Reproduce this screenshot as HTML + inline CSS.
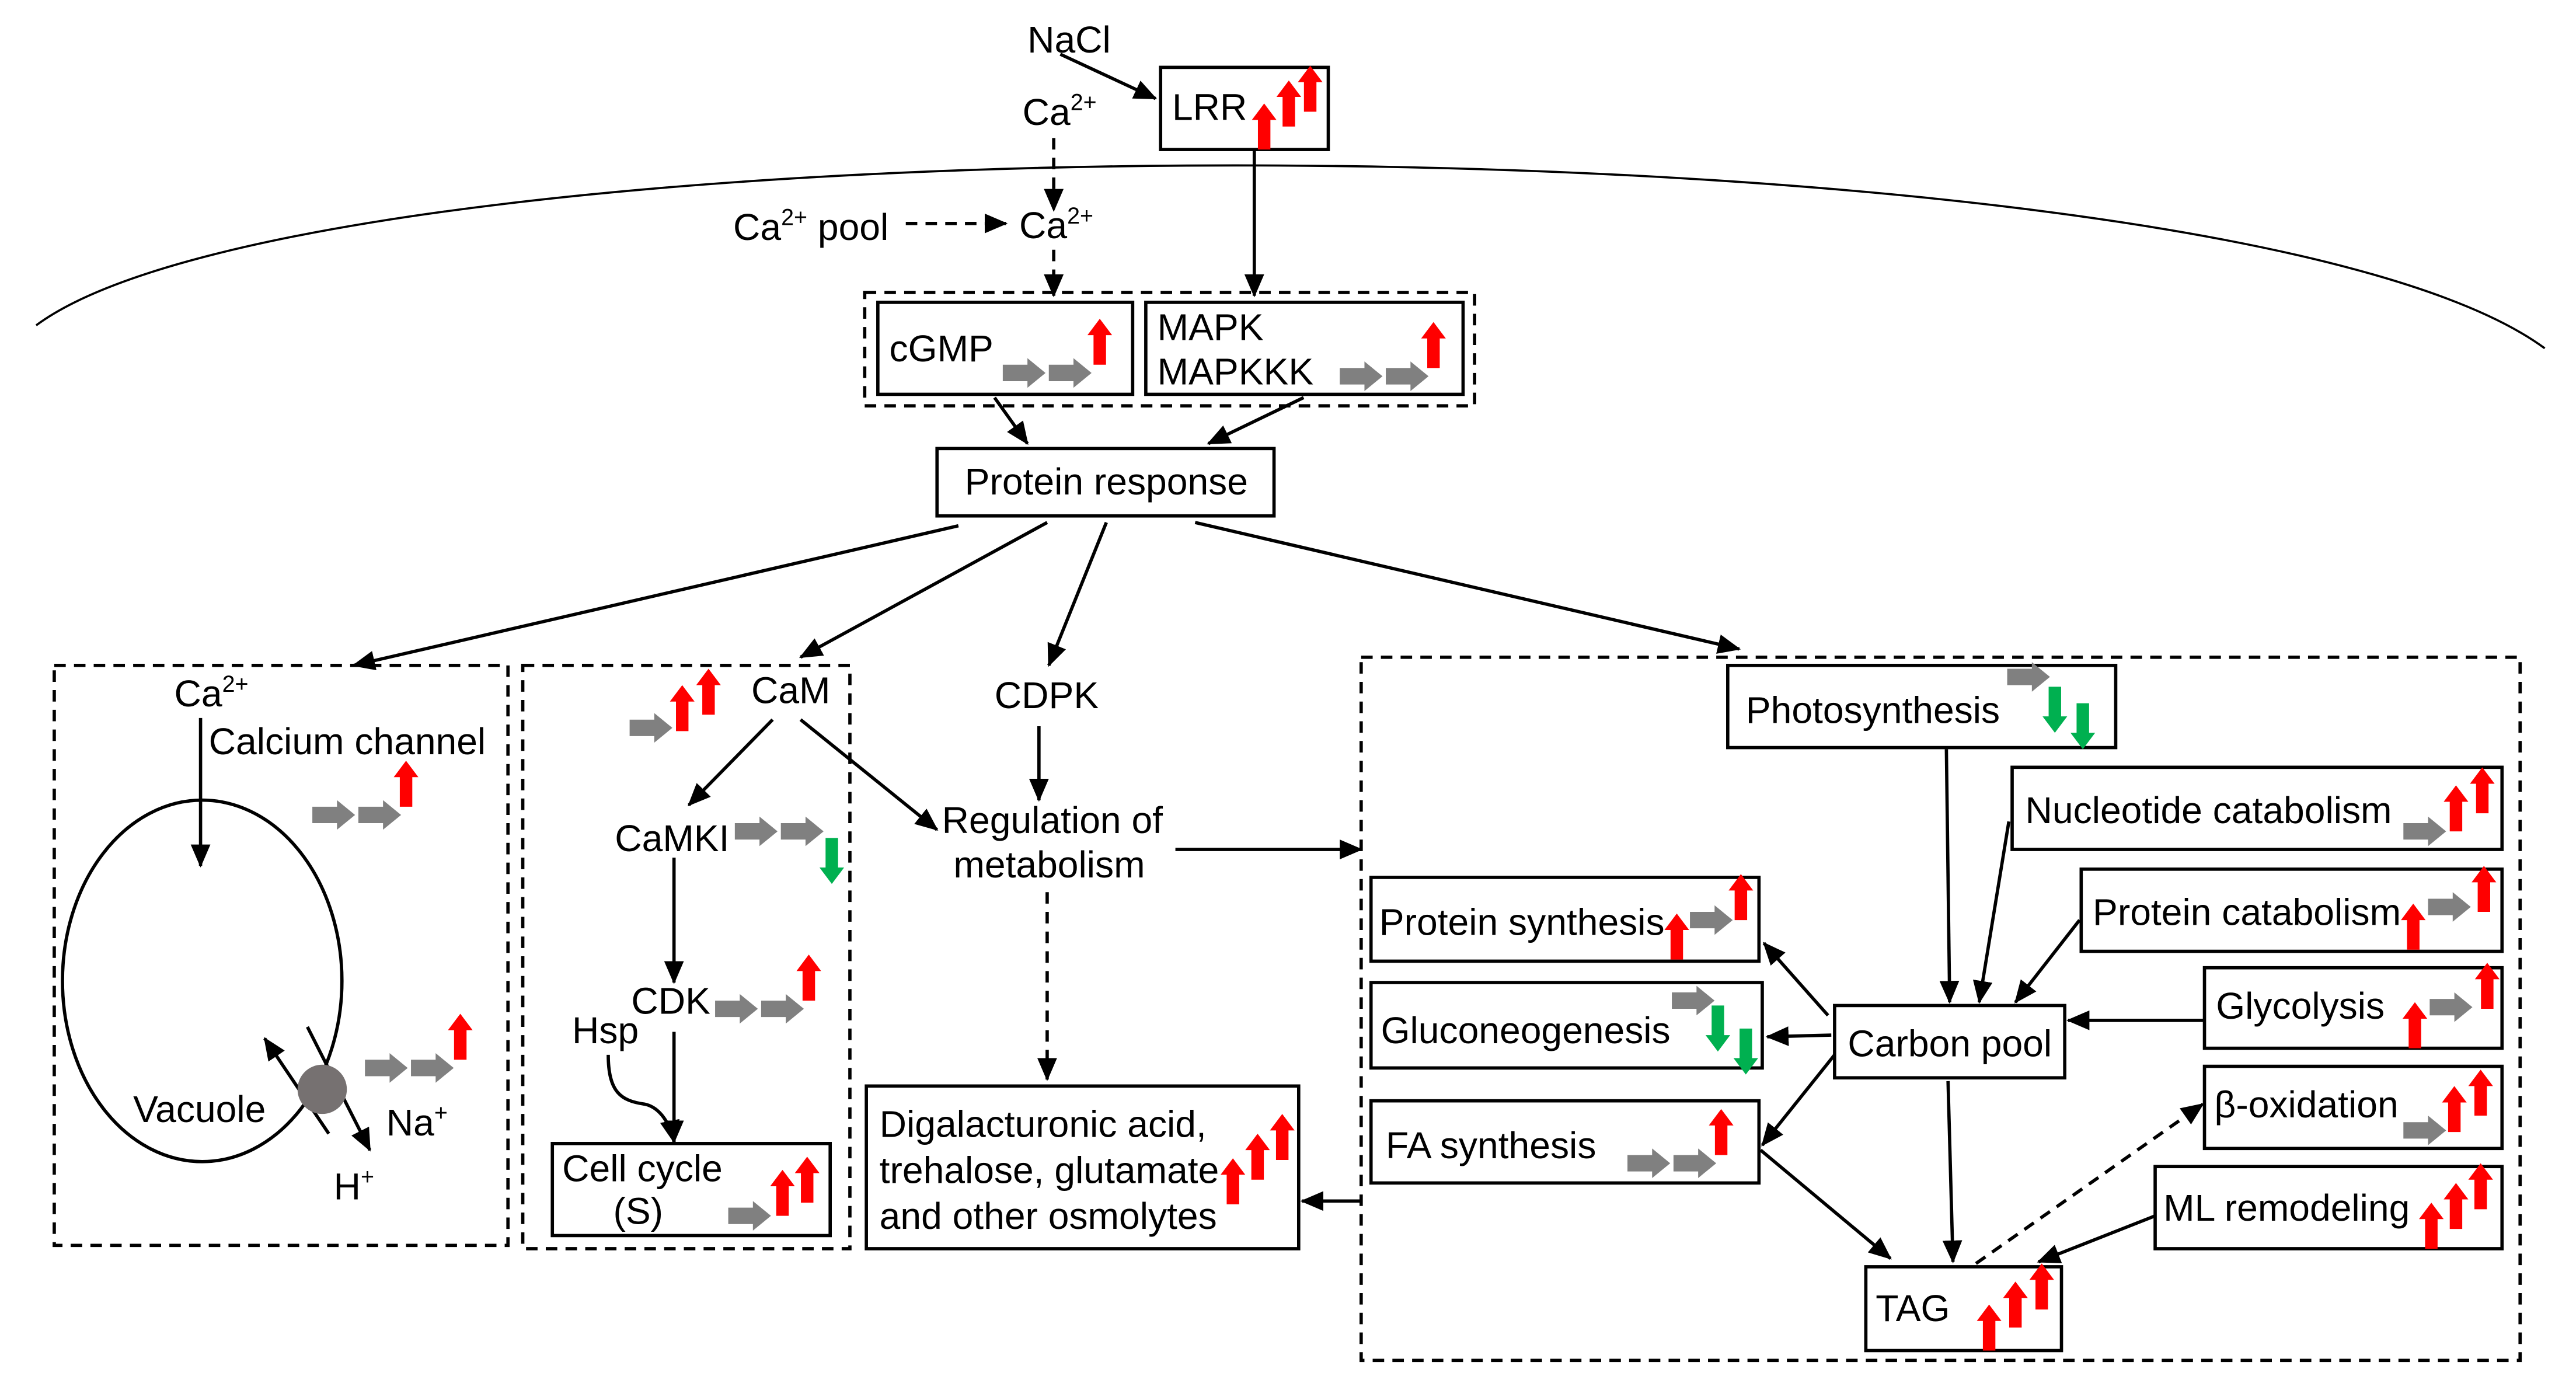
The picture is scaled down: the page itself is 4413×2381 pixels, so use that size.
<!DOCTYPE html>
<html><head><meta charset="utf-8"><style>
html,body{margin:0;padding:0;background:#fff;}
svg{display:block;}
text{font-family:"Liberation Sans",Arial,sans-serif;font-size:22.8px;fill:#000;}
</style></head><body>
<svg width="4413" height="2381" viewBox="0 0 1567 846" preserveAspectRatio="none" xmlns="http://www.w3.org/2000/svg">
<defs>
<marker id="ah" markerUnits="userSpaceOnUse" markerWidth="14" markerHeight="12" refX="13" refY="6" orient="auto"><path d="M0,0 L14,6 L0,12 Z" fill="#000"/></marker>
<g id="ru"><path d="M-3.8,0 V-18 H-7.5 L0,-28 L7.5,-18 H3.8 V0 Z" fill="#ff0000"/></g>
<g id="gd"><path d="M-3.8,0 V18 H-7.5 L0,28 L7.5,18 H3.8 V0 Z" fill="#00b050"/></g>
<g id="gr"><path d="M0,-5 H15 V-9 L26,0 L15,9 V5 H0 Z" fill="#808080"/></g>
</defs>
<g fill="none" stroke="#000" stroke-width="2">
<path d="M22,198 C200,66 1350,66 1548,212" stroke-width="1.3"/>
<line x1="645" y1="33" x2="703" y2="60" marker-end="url(#ah)"/>
<rect x="706" y="41" width="102" height="50"/>
<line x1="641" y1="84" x2="641" y2="128" stroke-dasharray="7,5" marker-end="url(#ah)"/>
<line x1="551" y1="136" x2="612" y2="136" stroke-dasharray="7,5" marker-end="url(#ah)"/>
<line x1="641" y1="152" x2="641" y2="180" stroke-dasharray="7,5" marker-end="url(#ah)"/>
<line x1="763" y1="91" x2="763" y2="180" marker-end="url(#ah)"/>
<rect x="526" y="178" width="371" height="69" stroke-dasharray="7,5"/>
<rect x="534" y="184" width="155" height="56"/>
<rect x="697" y="184" width="193" height="56"/>
<line x1="605" y1="242" x2="625" y2="270" marker-end="url(#ah)"/>
<line x1="793" y1="242" x2="735" y2="270" marker-end="url(#ah)"/>
<rect x="570" y="273" width="205" height="41"/>
<line x1="583" y1="320" x2="215" y2="405" marker-end="url(#ah)"/>
<line x1="637" y1="318" x2="487" y2="400" marker-end="url(#ah)"/>
<line x1="673" y1="318" x2="638" y2="405" marker-end="url(#ah)"/>
<line x1="727" y1="318" x2="1058" y2="395" marker-end="url(#ah)"/>
<rect x="33" y="405" width="276" height="353" stroke-dasharray="7,5"/>
<line x1="122" y1="437" x2="122" y2="527" marker-end="url(#ah)"/>
<ellipse cx="123" cy="597" rx="85" ry="110"/>
<line x1="200" y1="690" x2="161" y2="632" marker-end="url(#ah)"/>
<line x1="187" y1="625" x2="225" y2="700" marker-end="url(#ah)"/>
<rect x="318" y="405" width="199" height="355" stroke-dasharray="7,5"/>
<line x1="470" y1="438" x2="419" y2="490" marker-end="url(#ah)"/>
<line x1="487" y1="438" x2="570" y2="505" marker-end="url(#ah)"/>
<line x1="410" y1="522" x2="410" y2="598" marker-end="url(#ah)"/>
<line x1="410" y1="628" x2="410" y2="695" marker-end="url(#ah)"/>
<path d="M370,642 C370,665 378,670 392,672 C402,674 408,685 410,695" marker-end="url(#ah)"/>
<rect x="336" y="696" width="169" height="56"/>
<line x1="632" y1="442" x2="632" y2="487" marker-end="url(#ah)"/>
<line x1="715" y1="517" x2="828" y2="517" marker-end="url(#ah)"/>
<line x1="637" y1="543" x2="637" y2="657" stroke-dasharray="7,5" marker-end="url(#ah)"/>
<rect x="527" y="661" width="263" height="99"/>
<line x1="828" y1="731" x2="792" y2="731" marker-end="url(#ah)"/>
<rect x="828" y="400" width="705" height="428" stroke-dasharray="7,5"/>
<rect x="1051" y="405" width="236" height="50"/>
<rect x="1224" y="467" width="298" height="50"/>
<rect x="1266" y="529" width="256" height="50"/>
<rect x="1341" y="589" width="181" height="49"/>
<rect x="1341" y="649" width="181" height="50"/>
<rect x="1311" y="710" width="211" height="50"/>
<rect x="834" y="534" width="236" height="51"/>
<rect x="834" y="598" width="238" height="52"/>
<rect x="834" y="670" width="236" height="50"/>
<rect x="1116" y="612" width="140" height="44"/>
<rect x="1135" y="771" width="119" height="51"/>
<line x1="1184" y1="456" x2="1186" y2="610" marker-end="url(#ah)"/>
<line x1="1222" y1="500" x2="1204" y2="610" marker-end="url(#ah)"/>
<line x1="1265" y1="560" x2="1226" y2="610" marker-end="url(#ah)"/>
<line x1="1341" y1="621" x2="1258" y2="621" marker-end="url(#ah)"/>
<line x1="1112" y1="618" x2="1073" y2="574" marker-end="url(#ah)"/>
<line x1="1114" y1="630" x2="1075" y2="631" marker-end="url(#ah)"/>
<line x1="1116" y1="642" x2="1072" y2="697" marker-end="url(#ah)"/>
<line x1="1071" y1="700" x2="1150" y2="766" marker-end="url(#ah)"/>
<line x1="1185" y1="658" x2="1188" y2="768" marker-end="url(#ah)"/>
<line x1="1202" y1="769" x2="1340" y2="672" stroke-dasharray="7,5" marker-end="url(#ah)"/>
<line x1="1311" y1="740" x2="1240" y2="768" marker-end="url(#ah)"/>
</g>
<circle cx="196" cy="663" r="15" fill="#767171"/>
<text x="625" y="32">NaCl</text>
<text x="713" y="73">LRR</text>
<text x="622" y="76">Ca<tspan font-size="14" dy="-9">2+</tspan></text>
<text x="446" y="146">Ca<tspan font-size="14" dy="-9">2+</tspan><tspan dy="9"> pool</tspan></text>
<text x="620" y="145">Ca<tspan font-size="14" dy="-9">2+</tspan></text>
<text x="541" y="220">cGMP</text>
<text x="704" y="207">MAPK</text>
<text x="704" y="234">MAPKKK</text>
<text x="673" y="301" text-anchor="middle">Protein response</text>
<text x="106" y="430">Ca<tspan font-size="14" dy="-9">2+</tspan></text>
<text x="127" y="459">Calcium channel</text>
<text x="81" y="683">Vacuole</text>
<text x="203" y="730">H<tspan font-size="14" dy="-9">+</tspan></text>
<text x="235" y="691">Na<tspan font-size="14" dy="-9">+</tspan></text>
<text x="457" y="428">CaM</text>
<text x="374" y="518">CaMKI</text>
<text x="384" y="617">CDK</text>
<text x="348" y="635">Hsp</text>
<text x="342" y="719">Cell cycle</text>
<text x="373" y="745">(S)</text>
<text x="605" y="431">CDPK</text>
<text x="573" y="507">Regulation of</text>
<text x="580" y="534">metabolism</text>
<text x="535" y="692">Digalacturonic acid,</text>
<text x="535" y="720">trehalose, glutamate</text>
<text x="535" y="748">and other osmolytes</text>
<text x="1062" y="440">Photosynthesis</text>
<text x="1232" y="501">Nucleotide catabolism</text>
<text x="1273" y="563">Protein catabolism</text>
<text x="1348" y="620">Glycolysis</text>
<text x="1347" y="680">β-oxidation</text>
<text x="1316" y="743">ML remodeling</text>
<text x="839" y="569">Protein synthesis</text>
<text x="840" y="635">Gluconeogenesis</text>
<text x="843" y="705">FA synthesis</text>
<text x="1124" y="643">Carbon pool</text>
<text x="1141" y="804">TAG</text>
<use href="#ru" x="769" y="91"/><use href="#ru" x="784" y="77"/><use href="#ru" x="797" y="68"/>
<use href="#gr" x="610" y="227"/><use href="#gr" x="638" y="227"/><use href="#ru" x="669" y="222"/>
<use href="#gr" x="815" y="229"/><use href="#gr" x="843" y="229"/><use href="#ru" x="872" y="224"/>
<use href="#gr" x="190" y="496"/><use href="#gr" x="218" y="496"/><use href="#ru" x="247" y="491"/>
<use href="#gr" x="222" y="650"/><use href="#gr" x="250" y="650"/><use href="#ru" x="280" y="645"/>
<use href="#gr" x="383" y="443"/><use href="#ru" x="415" y="445"/><use href="#ru" x="431" y="435"/>
<use href="#gr" x="447" y="506"/><use href="#gr" x="475" y="506"/><use href="#gd" x="506" y="510"/>
<use href="#gr" x="435" y="614"/><use href="#gr" x="463" y="614"/><use href="#ru" x="492" y="609"/>
<use href="#gr" x="443" y="740"/><use href="#ru" x="476" y="740"/><use href="#ru" x="491" y="732"/>
<use href="#ru" x="750" y="733"/><use href="#ru" x="765" y="718"/><use href="#ru" x="780" y="706"/>
<use href="#gr" x="1221" y="412"/><use href="#gd" x="1250" y="418"/><use href="#gd" x="1267" y="428"/>
<use href="#gr" x="1462" y="506"/><use href="#ru" x="1494" y="506"/><use href="#ru" x="1510" y="495"/>
<use href="#ru" x="1468" y="578"/><use href="#gr" x="1477" y="552"/><use href="#ru" x="1511" y="555"/>
<use href="#ru" x="1469" y="638"/><use href="#gr" x="1478" y="613"/><use href="#ru" x="1513" y="614"/>
<use href="#gr" x="1462" y="688"/><use href="#ru" x="1493" y="689"/><use href="#ru" x="1509" y="679"/>
<use href="#ru" x="1479" y="760"/><use href="#ru" x="1494" y="748"/><use href="#ru" x="1509" y="736"/>
<use href="#ru" x="1020" y="584"/><use href="#gr" x="1028" y="560"/><use href="#ru" x="1059" y="560"/>
<use href="#gr" x="1017" y="609"/><use href="#gd" x="1045" y="612"/><use href="#gd" x="1062" y="626"/>
<use href="#gr" x="990" y="708"/><use href="#gr" x="1018" y="708"/><use href="#ru" x="1047" y="703"/>
<use href="#ru" x="1210" y="822"/><use href="#ru" x="1226" y="808"/><use href="#ru" x="1242" y="797"/>
</svg>
</body></html>
